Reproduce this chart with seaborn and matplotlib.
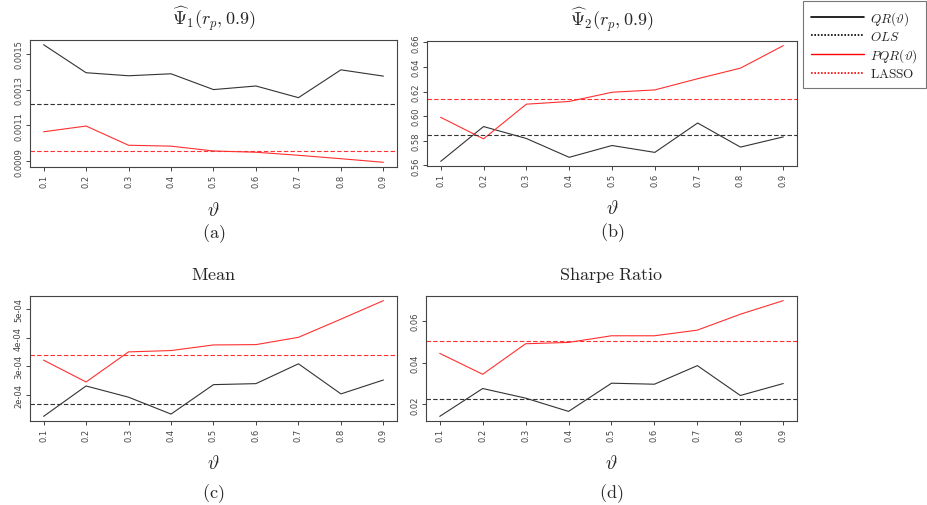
import numpy as np
import pandas as pd
import seaborn as sns
import matplotlib
matplotlib.use('Agg')
import matplotlib.pyplot as plt
from matplotlib.lines import Line2D
from matplotlib.ticker import FuncFormatter

sns.set_style('ticks')
plt.rcParams['mathtext.fontset'] = 'cm'
plt.rcParams['font.family'] = ['DejaVu Sans']

theta = [0.1, 0.2, 0.3, 0.4, 0.5, 0.6, 0.7, 0.8, 0.9]

# (a) Psi_1
psi1_qr = [0.00155, 0.001394, 0.001377, 0.001388, 0.00130, 0.00132, 0.001255, 0.00141, 0.001375]
psi1_pqr = [0.001065, 0.001097, 0.00099, 0.000985, 0.000958, 0.000951, 0.000934, 0.000915, 0.000895]
psi1_ols = 0.00122
psi1_lasso = 0.00096

# (b) Psi_2
psi2_qr = [0.5632, 0.5915, 0.5818, 0.5665, 0.5761, 0.5705, 0.5944, 0.5748, 0.5831]
psi2_pqr = [0.599, 0.5815, 0.6097, 0.6119, 0.6194, 0.6213, 0.6304, 0.639, 0.6573]
psi2_ols = 0.585
psi2_lasso = 0.6143

# (c) Mean
mean_qr = [1.233e-4, 2.302e-4, 1.907e-4, 1.314e-4, 2.349e-4, 2.384e-4, 3.081e-4, 2.023e-4, 2.512e-4]
mean_pqr = [3.209e-4, 2.442e-4, 3.50e-4, 3.547e-4, 3.744e-4, 3.756e-4, 4.012e-4, 4.651e-4, 5.302e-4]
mean_ols = 1.651e-4
mean_lasso = 3.407e-4

# (d) Sharpe ratio
sr_qr = [0.01429, 0.02762, 0.02302, 0.01667, 0.03016, 0.02968, 0.03857, 0.02429, 0.0300]
sr_pqr = [0.04444, 0.03444, 0.04905, 0.04968, 0.05286, 0.05286, 0.05556, 0.06317, 0.06968]
sr_ols = 0.02238
sr_lasso = 0.05016

BLACK = '#333333'
RED = '#ff3030'

panels = [
    (r'$\widehat{\Psi}_1(r_p,0.9)$', psi1_qr, psi1_pqr, psi1_ols, psi1_lasso,
     [0.0009, 0.0011, 0.0013, 0.0015], lambda v, p: f'{v:.4f}', '(a)', [30, 41, 397, 168]),
    (r'$\widehat{\Psi}_2(r_p,0.9)$', psi2_qr, psi2_pqr, psi2_ols, psi2_lasso,
     [0.56, 0.58, 0.60, 0.62, 0.64, 0.66], lambda v, p: f'{v:.2f}', '(b)', [427, 42, 797, 167]),
    (r'$\mathrm{Mean}$', mean_qr, mean_pqr, mean_ols, mean_lasso,
     [2e-4, 3e-4, 4e-4, 5e-4], lambda v, p: f'{v:.0e}', '(c)', [30, 297, 397, 422]),
    (r'$\mathrm{Sharpe\ Ratio}$', sr_qr, sr_pqr, sr_ols, sr_lasso,
     [0.02, 0.04, 0.06], lambda v, p: f'{v:.2f}', '(d)', [426, 297, 797, 422]),
]

W, H = 928, 506
fig = plt.figure(figsize=(W / 100, H / 100), dpi=100)

for title, qr, pqr, ols, lasso, yt, fmt, tag, box in panels:
    x0, y0, x1, y1 = box
    ax = fig.add_axes([x0 / W, 1 - y1 / H, (x1 - x0) / W, (y1 - y0) / H])
    df = pd.DataFrame({'theta': theta * 2, 'value': qr + pqr,
                       'method': ['QR'] * 9 + ['PQR'] * 9})
    sns.lineplot(data=df, x='theta', y='value', hue='method',
                 palette={'QR': BLACK, 'PQR': RED}, linewidth=0.8,
                 legend=False, ax=ax)
    ax.axhline(ols, color=BLACK, ls=(0, (4, 2)), lw=0.8)
    ax.axhline(lasso, color=RED, ls=(0, (4, 2)), lw=0.8)
    # R-style 4% axis padding
    vals = qr + pqr
    lo, hi = min(vals), max(vals)
    pad = 0.04 * (hi - lo)
    ax.set_ylim(lo - pad, hi + pad)
    ax.set_xlim(0.1 - 0.032, 0.9 + 0.032)
    ax.set_xticks(theta)
    ax.set_xticklabels([f'{t:.1f}' for t in theta], rotation=90)
    ax.set_yticks(yt)
    ax.yaxis.set_major_formatter(FuncFormatter(fmt))
    for lab in ax.get_yticklabels():
        lab.set_rotation(90)
        lab.set_va('center')
    ax.tick_params(labelsize=6, colors='#444444', length=3, width=0.7, pad=2)
    for s in ax.spines.values():
        s.set_color('#444444')
        s.set_linewidth(0.8)
    ax.set_xlabel('')
    ax.set_ylabel('')
    cx = (x0 + x1) / 2 / W
    fig.text(cx, 1 - (y0 - 22) / H, title, ha='center', va='center', fontsize=13)
    fig.text(cx, 1 - (y1 + 42) / H, r'$\vartheta$', ha='center', va='center', fontsize=14)
    fig.text(cx, 1 - (y1 + 66 if y0 < 200 else y1 + 72) / H,
             r'$\mathrm{' + tag + '}$', ha='center', va='center', fontsize=13)

handles = [
    Line2D([], [], color='black', lw=1.2),
    Line2D([], [], color='black', lw=1.2, ls=(0, (1, 1))),
    Line2D([], [], color='red', lw=1.0),
    Line2D([], [], color='red', lw=1.2, ls=(0, (1, 1))),
]
labels = [r'$QR(\vartheta)$', r'$OLS$', r'$PQR(\vartheta)$', r'$\mathrm{LASSO}$']
leg = fig.legend(handles, labels, loc='upper left', bbox_to_anchor=(803 / W, 1 - 2 / H),
                 frameon=True, fancybox=False, fontsize=9.5, handlelength=4.0,
                 handletextpad=0.5, labelspacing=0.25, borderpad=0.6, borderaxespad=0)
leg.get_frame().set_edgecolor('#555555')
leg.get_frame().set_linewidth(0.8)

fig.savefig('out.png', dpi=100)
